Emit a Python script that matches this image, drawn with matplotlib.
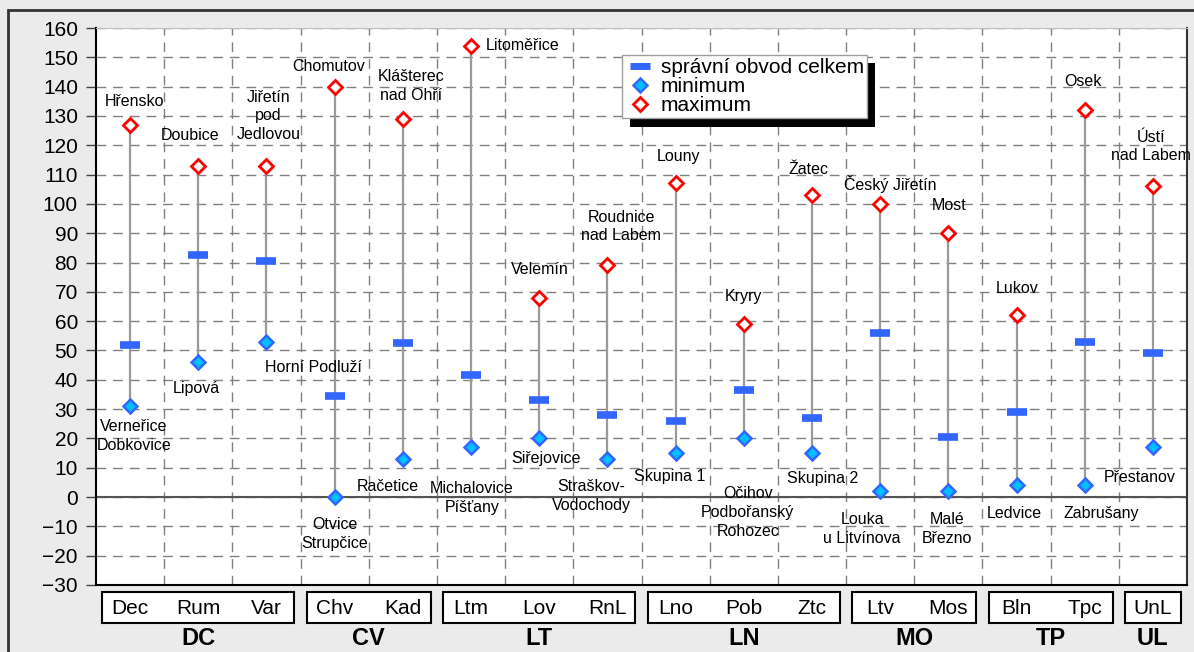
import matplotlib
matplotlib.use('Agg')
import matplotlib.pyplot as plt
import matplotlib.patheffects as pe
from matplotlib.patches import Rectangle
from matplotlib.lines import Line2D

plt.rcParams['font.family'] = ['Liberation Sans', 'DejaVu Sans']

# data
codes = ['Dec', 'Rum', 'Var', 'Chv', 'Kad', 'Ltm', 'Lov', 'RnL',
         'Lno', 'Pob', 'Ztc', 'Ltv', 'Mos', 'Bln', 'Tpc', 'UnL']
groups = ['DC', 'CV', 'LT', 'LN', 'MO', 'TP', 'UL']
group_sizes = [3, 2, 3, 3, 2, 2, 1]
mean_vals = [52, 82.5, 80.5, 34.5, 52.5, 41.5, 33, 28,
             26, 36.5, 27, 56, 20.5, 29, 53, 49]
min_vals = [31, 46, 53, 0, 13, 17, 20, 13,
            15, 20, 15, 2, 2, 4, 4, 17]
max_vals = [127, 113, 113, 140, 129, 154, 68, 79,
            107, 59, 103, 100, 90, 62, 132, 106]
min_names = ['Verneřice\nDobkovice', 'Lipová', 'Horní Podluží', 'Otvice\nStrupčice',
             'Račetice', 'Michalovice\nPíšťany', 'Siřejovice', 'Straškov-\nVodochody',
             'Skupina 1', 'Očihov\nPodbořanský\nRohozec', 'Skupina 2', 'Louka\nu Litvínova',
             'Malé\nBřezno', 'Ledvice', 'Zabrušany', 'Přestanov']
max_names = ['Hřensko', 'Doubice', 'Jiřetín\npod\nJedlovou', 'Chomutov',
             'Klášterec\nnad Ohří', 'Litoměřice', 'Velemín', 'Roudnice\nnad Labem',
             'Louny', 'Kryry', 'Žatec', 'Český Jiřetín', 'Most', 'Lukov', 'Osek',
             'Ústí\nnad Labem']

# label offsets from their marker, in pixels
min_off = [(4, -30), (-2, -26), (47, -26), (0, -37), (-15, -28), (1, -51), (7, -20), (-16, -37),
           (-6, -23), (4, -74), (11, -25), (-18, -38), (-1, -38), (-2, -28), (17, -28), (-13, -30)]
max_off = [(4, 23), (-8, 30), (2, 50), (-6, 20), (8, 33), (52, 0), (1, 28), (14, 39),
           (3, 27), (0, 28), (-3, 26), (10, 20), (1, 28), (1, 27), (-2, 29), (-2, 40)]

bg = '#ebebeb'
fig = plt.figure(figsize=(11.94, 6.52), dpi=100, facecolor=bg)
ax = fig.add_axes([96/1194, 1-585/652, 1091/1194, 557/652])
ax.set_facecolor('white')

x = list(range(len(codes)))

# grid
for yv in range(-30, 161, 10):
    ax.axhline(yv, color='#808080', lw=1, ls=(0, (7, 5)), zorder=0)
for xv in range(len(codes) - 1):
    ax.axvline(xv + 0.5, color='#808080', lw=1, ls=(0, (7, 5)), zorder=0)
ax.axhline(0, color='#555555', lw=1.5, zorder=1)

ax.vlines(x, min_vals, max_vals, color='#9a9a9a', lw=1.6, zorder=2)
ax.plot(x, mean_vals, ls='none', marker='_', ms=15, mew=5.5, color='#3366ff', zorder=3)
ax.plot(x, min_vals, ls='none', marker='D', ms=7.5, mfc='#00bfff', mec='#3366ff', mew=1.8, zorder=4)
ax.plot(x, max_vals, ls='none', marker='D', ms=7, mfc='white', mec='#ff0000', mew=2, zorder=4)

for i in x:
    ax.annotate(min_names[i], (i, min_vals[i]), xytext=min_off[i], textcoords='offset pixels',
                ha='center', va='center', fontsize=11.5, linespacing=1.3, zorder=5)
    ax.annotate(max_names[i], (i, max_vals[i]), xytext=max_off[i], textcoords='offset pixels',
                ha='center', va='center', fontsize=11.5, linespacing=1.3, zorder=5)

ax.set_xlim(-0.5, len(codes) - 0.5)
ax.set_ylim(-30, 160)
ax.set_yticks(range(-30, 161, 10))
ax.tick_params(axis='y', labelsize=15, length=7, width=1, color='#444444', pad=6)
ax.set_xticks([])
for s in ['left', 'bottom']:
    ax.spines[s].set_color('black')
    ax.spines[s].set_linewidth(1.5)
ax.spines['right'].set_color('#333333')
ax.spines['right'].set_linewidth(1.5)
ax.spines['top'].set_color('#c0c0c0')

# category boxes under the axis
tr = ax.get_xaxis_transform()
start = 0
for g, n in zip(groups, group_sizes):
    left = start - 0.5 + 0.09
    right = start + n - 0.5 - 0.09
    ax.add_patch(Rectangle((left, -0.068), right - left, 0.055, transform=tr, clip_on=False,
                           facecolor='white', edgecolor='black', lw=1.5))
    for k in range(start, start + n):
        ax.text(k, -0.042, codes[k], transform=tr, ha='center', va='center', fontsize=15)
    ax.text(start + (n - 1) / 2, -0.096, g, transform=tr, ha='center', va='center',
            fontsize=17, fontweight='bold')
    start += n

# legend with a hard black shadow
handles = [Line2D([], [], ls='none', marker='_', ms=15, mew=5, color='#3366ff'),
           Line2D([], [], ls='none', marker='D', ms=7, mfc='#00bfff', mec='#3366ff', mew=1.8),
           Line2D([], [], ls='none', marker='D', ms=7, mfc='white', mec='#ff0000', mew=2)]
leg = ax.legend(handles, ['správní obvod celkem', 'minimum', 'maximum'],
                loc='upper left', bbox_to_anchor=(526/1091, 0.9515), borderaxespad=0,
                fontsize=15, labelspacing=0.0, handletextpad=0.3, handlelength=1.4,
                borderpad=0.15, fancybox=False, framealpha=1, edgecolor='#a0a0a0')
leg.get_frame().set_path_effects([pe.SimplePatchShadow(offset=(6, -6), shadow_rgbFace='black', alpha=1),
                                  pe.Normal()])
leg.set_zorder(10)

# outer frame
fig.add_artist(Rectangle((8/1194, -0.05), 1.1, 1 - 10/652 + 0.05, transform=fig.transFigure,
                         fill=False, edgecolor='#333333', lw=2))

fig.savefig('out.png', dpi=100, facecolor=bg)
